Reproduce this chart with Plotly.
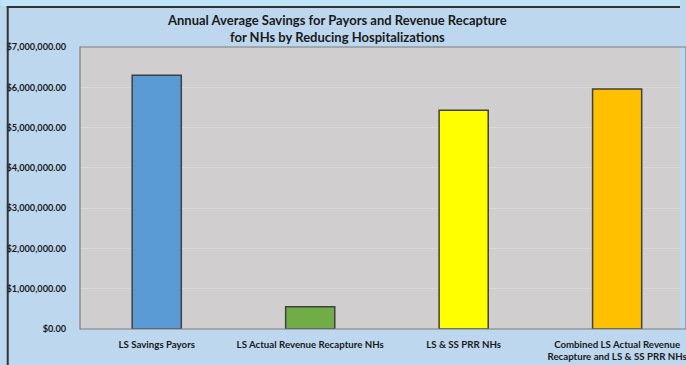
import plotly.graph_objects as go

categories = ["LS Savings Payors", "LS Actual Revenue Recapture NHs", "LS & SS PRR NHs",
              "Combined LS Actual Revenue<br>Recapture and LS & SS PRR NHs"]
values = [6300000, 550000, 5430000, 5960000]
bar_colors = ["#5b9bd5", "#70ad47", "#ffff00", "#ffc000"]
tick_vals = [0, 1000000, 2000000, 3000000, 4000000, 5000000, 6000000, 7000000]
tick_text = ["$0.00", "$1,000,000.00", "$2,000,000.00", "$3,000,000.00", "$4,000,000.00",
             "$5,000,000.00", "$6,000,000.00", "$7,000,000.00"]
title_lines = "Annual Average Savings for Payors and Revenue Recapture<br>for NHs by Reducing Hospitalizations"

W, H = 686, 365
L, R, T, B = 80, 0, 47, 36
pw, ph = W - L - R, H - T - B

def px(x):
    return (x - L) / pw

def py(y):
    return (H - B - y) / ph

FONT = "Lato"

fig = go.Figure()
fig.add_trace(go.Bar(
    x=list(range(len(categories))), y=values,
    marker=dict(color=bar_colors, line=dict(color="#404040", width=1.5)),
    width=0.32,
))

fig.update_layout(
    width=W, height=H,
    margin=dict(l=L, r=R, t=T, b=B, pad=0),
    paper_bgcolor="#bdd7ee",
    plot_bgcolor="#d0cece",
    showlegend=False,
    font=dict(family=FONT, color="#1a1a1a"),
    xaxis=dict(
        tickmode="array", tickvals=list(range(len(categories))), ticktext=categories,
        range=[-0.5, 3.5 - 14 / 155],
        tickfont=dict(family=FONT, size=9.7, color="#1a1a1a", weight="bold"),
        ticklabeloverflow="allow",
        showgrid=False, zeroline=False,
        ticks="outside", ticklen=6, tickcolor="rgba(0,0,0,0)",
        showline=False,
    ),
    yaxis=dict(
        range=[0, 7000000], tickmode="array", tickvals=tick_vals, ticktext=tick_text,
        tickfont=dict(family=FONT, size=9.2, color="#1a1a1a", weight="bold"),
        showgrid=True, gridcolor="#d9d7d7", gridwidth=1,
        zeroline=False,
        ticks="outside", ticklen=11, tickcolor="rgba(0,0,0,0)",
        showline=False,
    ),
    shapes=[
        dict(type="rect", xref="paper", yref="paper", x0=px(0), x1=px(W), y0=py(6), y1=py(-1),
             fillcolor="#c0e4f7", line=dict(width=0), layer="below"),
        dict(type="line", xref="paper", yref="paper", x0=px(6), x1=px(W), y0=py(7), y1=py(7),
             line=dict(color="#333333", width=2)),
        dict(type="line", xref="paper", yref="paper", x0=px(7), x1=px(7), y0=py(6), y1=py(H + 2),
             line=dict(color="#333333", width=2)),
        dict(type="rect", xref="paper", yref="paper", x0=0, x1=1.01, y0=0, y1=1,
             line=dict(color="#7f7f7f", width=1.2), fillcolor="rgba(0,0,0,0)"),
    ],
    annotations=[
        dict(text="<b>" + title_lines + "</b>", xref="paper", yref="paper",
             x=px(340), y=py(10), xanchor="center", yanchor="top", showarrow=False,
             font=dict(family=FONT, size=13, color="#1a1a1a")),
    ],
)

fig.write_html("out.html")
